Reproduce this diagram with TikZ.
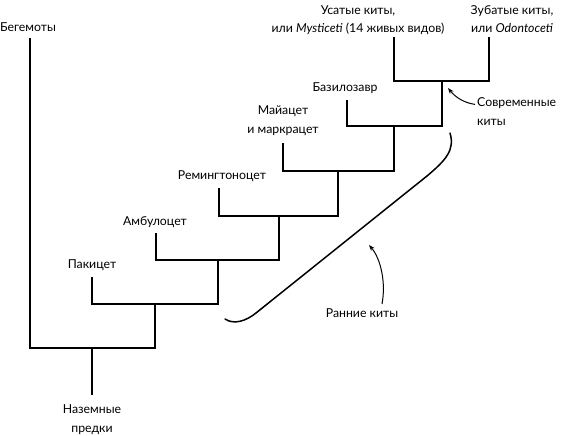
\documentclass[tikz,border=0pt]{standalone}
\usepackage{fontspec}
\setmainfont{Lato}
\usetikzlibrary{arrows.meta}
\tikzset{
  lbl/.style={font=\fontsize{12.3}{18.5}\selectfont, inner sep=0pt, anchor=base, align=center},
  tree/.style={line width=2.2pt, line join=miter},
  brace/.style={line width=1.5pt, line cap=round},
  pointer/.style={line width=1pt, -{Stealth[length=6pt,width=4.5pt]}}
}
\begin{document}
\begin{tikzpicture}[x=1pt,y=-1pt]
\useasboundingbox (0,0) rectangle (562,436);
% labels (multi-line labels are placed by their last baseline)
\node[lbl] (hipL) at (28,32) {Бегемоты};
\node[lbl] (mysL) at (358,33) {Усатые киты,\\или \textit{Mysticeti} (14 живых видов)};
\node[lbl] (odoL) at (512,33) {Зубатые киты,\\или \textit{Odontoceti}};
\node[lbl] (basL) at (345,91) {Базилозавр};
\node[lbl] (mayL) at (283,133) {Майацет\\и маркрацет};
\node[lbl] (remL) at (222,179) {Ремингтоноцет};
\node[lbl] (ambL) at (155,225) {Амбулоцет};
\node[lbl] (pakL) at (92,268) {Пакицет};
\node[lbl] (ancL) at (92,432) {Наземные\\предки};
\node[lbl, anchor=base west, align=left] (modL) at (477,125) {Современные\\киты};
\node[lbl] (earlyL) at (362,317) {Ранние киты};
% tips and junctions
\coordinate (hip) at (30,38);
\coordinate (anc) at (92,395);
\coordinate (pak) at (92,277);
\coordinate (amb) at (156,233);
\coordinate (rem) at (219,188);
\coordinate (may) at (283,143);
\coordinate (bas) at (347,100);
\coordinate (mys) at (394,37);
\coordinate (odo) at (489,37);
\coordinate (n0) at (92,348);
\coordinate (n1) at (155,304);
\coordinate (n2) at (218,260);
\coordinate (n3) at (279,216);
\coordinate (n4) at (338,171);
\coordinate (n5) at (394,126);
\coordinate (n6) at (442,81);
% tree
\draw[tree] (hip) |- (n0) -| (n1);
\draw[tree] (n0) -- (anc);
\draw[tree] (pak) |- (n1) -| (n2);
\draw[tree] (amb) |- (n2) -| (n3);
\draw[tree] (rem) |- (n3) -| (n4);
\draw[tree] (may) |- (n4) -| (n5);
\draw[tree] (bas) |- (n5) -| (n6);
\draw[tree] (mys) |- (n6) -| (odo);
% early whales bracket
\coordinate (brA) at (225,319);
\coordinate (brB) at (450,133);
\draw[brace] (brA) .. controls (234,325) and (246,321) .. (256,313)
  -- (427,176) .. controls (446,160) and (455,150) .. (brB);
% pointers
\coordinate (earlyTip) at (369,245);
\draw[pointer] (earlyL.north) ++(20,-4) .. controls (386,283) and (381,259) .. (earlyTip);
\coordinate (modTip) at (448,88);
\draw[pointer] ([shift={(-2,7)}]modL.north west) .. controls (465,103) and (456,98) .. (modTip);
\end{tikzpicture}
\end{document}
